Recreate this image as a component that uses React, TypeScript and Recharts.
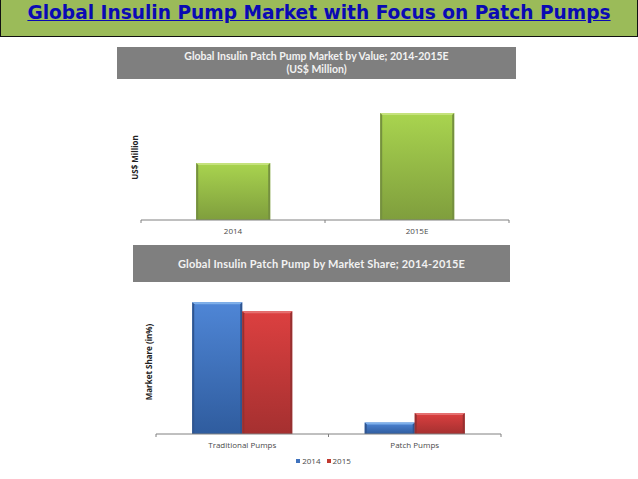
import React from 'react'
import { BarChart, Bar, XAxis, YAxis, Legend } from 'recharts'

// values, no scale printed so these are relative
const valueCategories = ['2014', '2015E']
const valueSeries = [57, 107]

const shareCategories = ['Traditional Pumps', 'Patch Pumps']
const share2014 = [91.5, 8]
const share2015 = [85.3, 14.5]

const valueData = valueCategories.map((name, i) => ({ name, value: valueSeries[i] }))
const shareData = shareCategories.map((name, i) => ({
  name,
  y2014: share2014[i],
  y2015: share2015[i],
}))

const AXIS_FONT = '"Open Sans", sans-serif'

// bar with a bevel: light top edge, dark sides
function bevelBar(grad: string, top: string, side: string) {
  return function BevelBar(props: any) {
    const { x, y, width, height } = props
    if (!height || height <= 0) return null
    const b = 2
    return (
      <g>
        <rect x={x} y={y} width={width} height={height} fill={`url(#${grad})`} />
        <polygon
          points={`${x},${y} ${x + width},${y} ${x + width - b},${y + b} ${x + b},${y + b}`}
          fill={top}
        />
        <polygon
          points={`${x},${y} ${x + b},${y + b} ${x + b},${y + height} ${x},${y + height}`}
          fill={side}
        />
        <polygon
          points={`${x + width},${y} ${x + width - b},${y + b} ${x + width - b},${y + height} ${x + width},${y + height}`}
          fill={side}
        />
      </g>
    )
  }
}

// ticks sit on the band edges in the picture, not under the bars
function BandTick(props: any) {
  const { x, y, payload, index, visibleTicksCount } = props
  const half = payload.offset ?? 0
  const last = index === visibleTicksCount - 1
  return (
    <g>
      <line x1={x - half} x2={x - half} y1={y - 8} y2={y - 5} stroke="#808080" />
      {last && <line x1={x + half} x2={x + half} y1={y - 8} y2={y - 5} stroke="#808080" />}
      <text x={x} y={y + 6} textAnchor="middle" fontFamily={AXIS_FONT} fontSize={8} fill="#4a4a4a">
        {payload.value}
      </text>
    </g>
  )
}

function ShareLegend({ payload }: any) {
  return (
    <div style={{ display: 'flex', justifyContent: 'center', paddingLeft: 14, paddingTop: 2, fontFamily: AXIS_FONT, fontSize: 8, color: '#4a4a4a', lineHeight: '10px' }}>
      {(payload || []).map((item: any) => (
        <span key={item.value} style={{ display: 'flex', alignItems: 'center', margin: '0 3px' }}>
          <span style={{ width: 4, height: 4, background: item.color, marginRight: 2 }} />
          {item.value}
        </span>
      ))}
    </div>
  )
}

const banner: React.CSSProperties = {
  position: 'absolute',
  background: '#7f7f7f',
  color: '#f2f2f2',
  fontFamily: 'Lato, sans-serif',
  fontWeight: 700,
  textAlign: 'center',
}

// rotated axis title, placed from the axis viewBox
const yLabel = (value: string, offset: number, shift: number) => ({
  content: ({ viewBox }: any) => {
    const lx = viewBox.x + offset
    const ly = viewBox.y + viewBox.height / 2 + shift
    return (
      <text x={lx} y={ly} transform={`rotate(-90 ${lx} ${ly})`} textAnchor="middle" dominantBaseline="middle" fontFamily={AXIS_FONT} fontSize={8} fontWeight={700} fill="#222">
        {value}
      </text>
    )
  },
})

export default function App() {
  return (
    <div style={{ position: 'absolute', left: 0, top: 0, width: 638, height: 479, background: '#fff', overflow: 'hidden' }}>
      <div
        style={{
          position: 'absolute',
          left: 0,
          top: 0,
          width: 636,
          height: 36,
          background: '#9bbb59',
          borderLeft: '1px solid #111',
          borderRight: '1px solid #111',
          borderBottom: '1.5px solid #111',
          textAlign: 'center',
          fontFamily: '"DejaVu Sans", sans-serif',
          fontWeight: 700,
          fontSize: 18.6,
          lineHeight: '26px',
          color: '#0a0ab4',
          textDecoration: 'underline',
        }}
      >
        Global Insulin Pump Market with Focus on Patch Pumps
      </div>

      <div style={{ ...banner, left: 117, top: 47, width: 399, height: 32, fontSize: 10.5, lineHeight: '13px', paddingTop: 3, boxSizing: 'border-box' }}>
        Global Insulin Patch Pump Market by Value; 2014-2015E
        <br />
        (US$ Million)
      </div>

      <div style={{ ...banner, left: 133, top: 245, width: 377, height: 37, fontSize: 11, letterSpacing: 0.18, lineHeight: '37px' }}>
        Global Insulin Patch Pump by Market Share; 2014-2015E
      </div>

      <div style={{ position: 'absolute', left: 117, top: 90 }}>
        <BarChart width={400} height={150} data={valueData} barCategoryGap="30%" margin={{ top: 23, right: 8, bottom: 0, left: 0 }}>
          <defs>
            <linearGradient id="greenGrad" x1="0" y1="0" x2="0" y2="1">
              <stop offset="0%" stopColor="#a9d44f" />
              <stop offset="100%" stopColor="#7f9e3d" />
            </linearGradient>
          </defs>
          <XAxis dataKey="name" height={20} stroke="#808080" tickLine={false} tick={<BandTick />} />
          <YAxis width={24} domain={[0, 107]} axisLine={false} tickLine={false} tick={false} label={yLabel('US$ Million', 19, -9)} />
          <Bar dataKey="value" isAnimationActive={false} fill="#9bbb59" shape={bevelBar('greenGrad', '#c5e27c', '#75903f')} />
        </BarChart>
      </div>

      <div style={{ position: 'absolute', left: 132, top: 290 }}>
        <BarChart width={378} height={190} data={shareData} barCategoryGap="21%" barGap={0} margin={{ top: 0, right: 9, bottom: 0, left: 0 }}>
          <defs>
            <linearGradient id="blueGrad" x1="0" y1="0" x2="0" y2="1">
              <stop offset="0%" stopColor="#4f86d6" />
              <stop offset="100%" stopColor="#2f5c9e" />
            </linearGradient>
            <linearGradient id="redGrad" x1="0" y1="0" x2="0" y2="1">
              <stop offset="0%" stopColor="#dc4040" />
              <stop offset="100%" stopColor="#a53030" />
            </linearGradient>
          </defs>
          <XAxis dataKey="name" height={20} stroke="#808080" tickLine={false} tick={<BandTick />} />
          <YAxis width={24} domain={[0, 100]} axisLine={false} tickLine={false} tick={false} label={yLabel('Market Share (in%)', 18, 0)} />
          <Legend verticalAlign="bottom" height={26} content={<ShareLegend />} />
          <Bar dataKey="y2014" name="2014" isAnimationActive={false} fill="#3f72bd" shape={bevelBar('blueGrad', '#7fb0ea', '#2f5590')} />
          <Bar dataKey="y2015" name="2015" isAnimationActive={false} fill="#c0392f" shape={bevelBar('redGrad', '#e57070', '#963030')} />
        </BarChart>
      </div>
    </div>
  )
}
